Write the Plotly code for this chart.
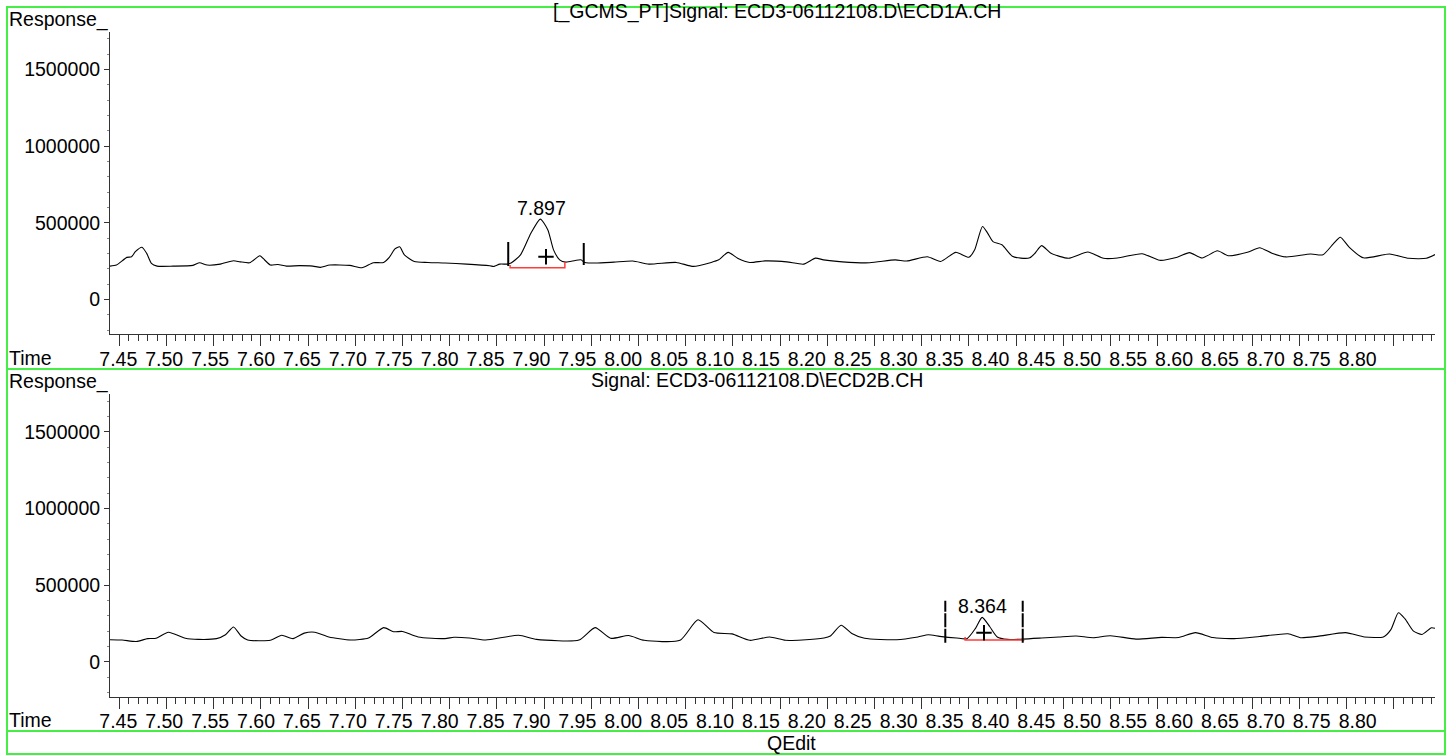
import plotly.graph_objects as go

W, H = 1452, 755

# ECD1A signal (time in min, response)
t1 = [7.440, 7.447, 7.458, 7.463, 7.467, 7.474, 7.479, 7.484, 7.490, 7.507,
      7.528, 7.535, 7.543, 7.557, 7.571, 7.578, 7.588, 7.596, 7.599, 7.604,
      7.610, 7.618, 7.627, 7.641, 7.655, 7.663, 7.673, 7.694, 7.707, 7.719,
      7.730, 7.736, 7.742, 7.747, 7.752, 7.7625, 7.777, 7.795, 7.818, 7.8425,
      7.847, 7.853, 7.861, 7.865, 7.875, 7.886, 7.896, 7.904, 7.910, 7.9165,
      7.923, 7.933, 7.939, 7.943, 7.955, 7.974, 7.994, 8.011, 8.040, 8.058,
      8.077, 8.085, 8.095, 8.105, 8.118, 8.134, 8.157, 8.175, 8.1875, 8.196,
      8.216, 8.245, 8.272, 8.284, 8.306, 8.320, 8.336, 8.350, 8.356, 8.3644,
      8.370, 8.3755, 8.385, 8.396, 8.405, 8.4145, 8.420, 8.427, 8.437, 8.4555,
      8.476, 8.4926, 8.5075, 8.5335, 8.552, 8.5707, 8.5837, 8.597, 8.6133, 8.6246,
      8.645, 8.658, 8.671, 8.686, 8.712, 8.725, 8.736, 8.7435, 8.7528, 8.7677,
      8.7955, 8.816, 8.8345, 8.845]
r1 = [217000, 224000, 274000, 278000, 311000, 340000, 300000, 235000, 217000, 217000,
      222000, 239000, 224000, 230000, 252000, 245000, 239000, 274000, 285000, 257000,
      224000, 228000, 217000, 220000, 217000, 209000, 224000, 222000, 206000, 239000,
      241000, 274000, 330000, 343000, 290000, 247000, 241000, 237000, 230000, 219000,
      215000, 230000, 230000, 237000, 290000, 431000, 524000, 453000, 323000, 258000,
      243000, 254000, 258000, 241000, 237000, 243000, 250000, 230000, 241000, 215000,
      241000, 258000, 307000, 269000, 241000, 251000, 245000, 230000, 269000, 258000,
      245000, 239000, 258000, 250000, 278000, 247000, 307000, 275000, 322000, 476000,
      431000, 377000, 356000, 281000, 269000, 271000, 301000, 351000, 301000, 268000,
      309000, 268000, 270000, 298000, 255000, 275000, 305000, 270000, 317000, 285000,
      307000, 337000, 301000, 277000, 296000, 291000, 362000, 405000, 341000, 271000,
      296000, 268000, 268000, 296000]

# ECD2B signal
t2 = [7.440, 7.453, 7.468, 7.480, 7.489, 7.502, 7.520, 7.534, 7.553, 7.5625,
      7.571, 7.579, 7.586, 7.610, 7.622, 7.634, 7.646, 7.657, 7.672, 7.695,
      7.714, 7.730, 7.7405, 7.750, 7.7666, 7.795, 7.8045, 7.821, 7.838, 7.873,
      7.892, 7.937, 7.954, 7.9705, 7.9895, 8.006, 8.044, 8.063, 8.080, 8.099,
      8.118, 8.139, 8.1555, 8.1735, 8.1965, 8.2033, 8.2146, 8.226, 8.2395, 8.2734,
      8.296, 8.307, 8.319, 8.337, 8.348, 8.357, 8.364, 8.372, 8.380, 8.391,
      8.407, 8.427, 8.4455, 8.4636, 8.4817, 8.4998, 8.527, 8.554, 8.5722, 8.590,
      8.6085, 8.631, 8.658, 8.688, 8.7013, 8.7194, 8.749, 8.769, 8.789, 8.797,
      8.805, 8.812, 8.821, 8.830, 8.840, 8.844]
r2 = [144000, 142000, 132000, 151000, 153000, 193000, 153000, 146000, 151000, 176000,
      227000, 168000, 142000, 140000, 173000, 151000, 187000, 193000, 162000, 142000,
      155000, 223000, 196000, 198000, 162000, 151000, 160000, 155000, 142000, 173000,
      146000, 142000, 223000, 153000, 171000, 140000, 140000, 274000, 191000, 182000,
      140000, 162000, 140000, 142000, 155000, 168000, 238000, 185000, 153000, 144000,
      162000, 176000, 166000, 155000, 151000, 218000, 290000, 230000, 162000, 146000,
      148000, 155000, 162000, 168000, 157000, 170000, 148000, 159000, 158000, 190000,
      158000, 151000, 165000, 183000, 157000, 166000, 190000, 162000, 162000, 210000,
      320000, 280000, 200000, 178000, 222000, 218000]

# integrated peaks: [top, bottom]
peak_rt = [7.897, 8.364]
peak_label_y = [598000, 363600]
peak_plus_t = [7.902, 8.366]
peak_plus_y = [278000, 189000]
mark_start = [7.862, 8.325]
mark_end = [7.942, 8.407]
mark_lo = [[217400, 223900], [124000, 124000]]
mark_hi = [[374000, 367500], [398000, 398000]]
base_t = [[7.864, 7.864, 7.922, 7.922], [8.346, 8.346, 8.408, 8.408]]
base_y = [[224000, 206000, 206000, 245000], [161000, 141600, 141600, 146000]]

titles = ["[_GCMS_PT]Signal: ECD3-06112108.D\\ECD1A.CH",
          "Signal: ECD3-06112108.D\\ECD2B.CH"]

tick_labels = ["7.45", "7.50", "7.55", "7.60", "7.65", "7.70", "7.75", "7.80",
               "7.85", "7.90", "7.95", "8.00", "8.05", "8.10", "8.15", "8.20",
               "8.25", "8.30", "8.35", "8.40", "8.45", "8.50", "8.55", "8.60",
               "8.65", "8.70", "8.75", "8.80"]
tick_vals = [float(s) for s in tick_labels]
y_ticks = [0, 500000, 1000000, 1500000]

FONT = "Arial, 'Liberation Sans', sans-serif"
FS = 19.5
AX = "#333333"
GREEN = "#44ee44"


def px(x):
    return x / W


def py(y):
    return 1 - y / H


fig = go.Figure()

panels = [("x", "y", "x2", t1, r1), ("x3", "y2", "x4", t2, r2)]
for i, (xa, ya, xl, t, r) in enumerate(panels):
    fig.add_trace(go.Scatter(x=t, y=r, xaxis=xa, yaxis=ya, mode="lines",
                             line=dict(color="black", width=1.1, shape="spline", smoothing=0.6),
                             hoverinfo="skip", showlegend=False))
    # dummy trace so the label axis gets drawn
    fig.add_trace(go.Scatter(x=[None], y=[None], xaxis=xl, yaxis=ya, mode="lines",
                             hoverinfo="skip", showlegend=False))
    # integration baseline
    fig.add_trace(go.Scatter(x=base_t[i], y=base_y[i], xaxis=xa, yaxis=ya, mode="lines",
                             line=dict(color="#ff3b3b", width=1.5),
                             hoverinfo="skip", showlegend=False))
    # start / end markers
    dash = "solid" if i == 0 else "14px,1.5px"
    for k, tm in enumerate([mark_start[i], mark_end[i]]):
        fig.add_trace(go.Scatter(x=[tm, tm], y=[mark_lo[i][k], mark_hi[i][k]],
                                 xaxis=xa, yaxis=ya, mode="lines",
                                 line=dict(color="black", width=2, dash=dash),
                                 hoverinfo="skip", showlegend=False))
    # peak apex marker
    fig.add_trace(go.Scatter(x=[peak_plus_t[i]], y=[peak_plus_y[i]], xaxis=xa, yaxis=ya,
                             mode="markers",
                             marker=dict(symbol="cross-thin", size=11,
                                         line=dict(color="black", width=2)),
                             hoverinfo="skip", showlegend=False))
    fig.add_annotation(x=peak_rt[i], y=peak_label_y[i], xref=xa, yref=ya,
                       text=f"{peak_rt[i]:.3f}", showarrow=False,
                       font=dict(size=FS, color="black", family=FONT))

x_dom = [px(110), px(1435)]
y_doms = [[py(334.3), py(32)], [py(696.7), py(394.4)]]
y_rng = [-228000, 1745000]
x_rng = [7.44015, 8.84375]
lbl_rng = [7.44096, 8.88431]

tick_axis = dict(domain=x_dom, range=x_rng, showline=True, linecolor=AX, linewidth=1,
                 ticks="outside", ticklen=11, tickwidth=1, tickcolor=AX,
                 tickmode="array", tickvals=tick_vals, showticklabels=False,
                 showgrid=False, zeroline=False, automargin=False,
                 minor=dict(tickmode="linear", tick0=7.44, dtick=0.01, ticks="outside",
                            ticklen=6, tickwidth=1, tickcolor=AX, showgrid=False))
label_axis = dict(range=lbl_rng, showline=False, ticks="outside", ticklen=7,
                  tickcolor="rgba(0,0,0,0)", tickmode="array", tickvals=tick_vals,
                  ticktext=tick_labels, showgrid=False, zeroline=False, side="bottom",
                  automargin=False,
                  tickfont=dict(size=FS, color="black", family=FONT))
y_axis = dict(range=y_rng, showline=True, linecolor=AX, linewidth=1,
              ticks="outside", ticklen=5, tickwidth=1, tickcolor=AX,
              tickmode="array", tickvals=y_ticks, ticktext=[str(v) for v in y_ticks],
              showgrid=False, zeroline=False, automargin=False,
              tickfont=dict(size=FS, color="black", family=FONT),
              minor=dict(tickmode="linear", tick0=0, dtick=100000, ticks="outside",
                         ticklen=2, tickcolor="#888888", showgrid=False))

fig.update_layout(
    width=W, height=H,
    margin=dict(l=0, r=0, t=0, b=0, pad=0, autoexpand=False),
    paper_bgcolor="white", plot_bgcolor="white",
    font=dict(family=FONT, size=FS, color="black"),
    showlegend=False,
    xaxis=dict(tick_axis, anchor="y"),
    xaxis2=dict(label_axis, overlaying="x", anchor="y"),
    xaxis3=dict(tick_axis, anchor="y2"),
    xaxis4=dict(label_axis, overlaying="x3", anchor="y2"),
    yaxis=dict(y_axis, domain=y_doms[0], anchor="x"),
    yaxis2=dict(y_axis, domain=y_doms[1], anchor="x3"),
)

# frame in QEdit style
fig.add_shape(type="rect", xref="paper", yref="paper", x0=px(7), x1=px(1445),
              y0=py(754), y1=py(7), line=dict(color=GREEN, width=2))
for yy in [369, 731]:
    fig.add_shape(type="line", xref="paper", yref="paper", x0=px(7), x1=px(1445),
                  y0=py(yy), y1=py(yy), line=dict(color=GREEN, width=2))

texts = [
    ("Response_", 7, 19.5, "left"),
    (titles[0], 1003, 12, "right"),
    ("Time", 7, 358, "left"),
    ("Response_", 7, 381.5, "left"),
    (titles[1], 757, 380, "center"),
    ("Time", 7, 720, "left"),
    ("QEdit", 791, 743, "center"),
]
for txt, x, y, anc in texts:
    fig.add_annotation(x=px(x), y=py(y), xref="paper", yref="paper", text=txt,
                       showarrow=False, xanchor=anc, yanchor="middle",
                       font=dict(size=FS, color="black", family=FONT))

fig.write_html("out.html", config={"displayModeBar": False},
               post_script="document.body.style.margin='0px';")
